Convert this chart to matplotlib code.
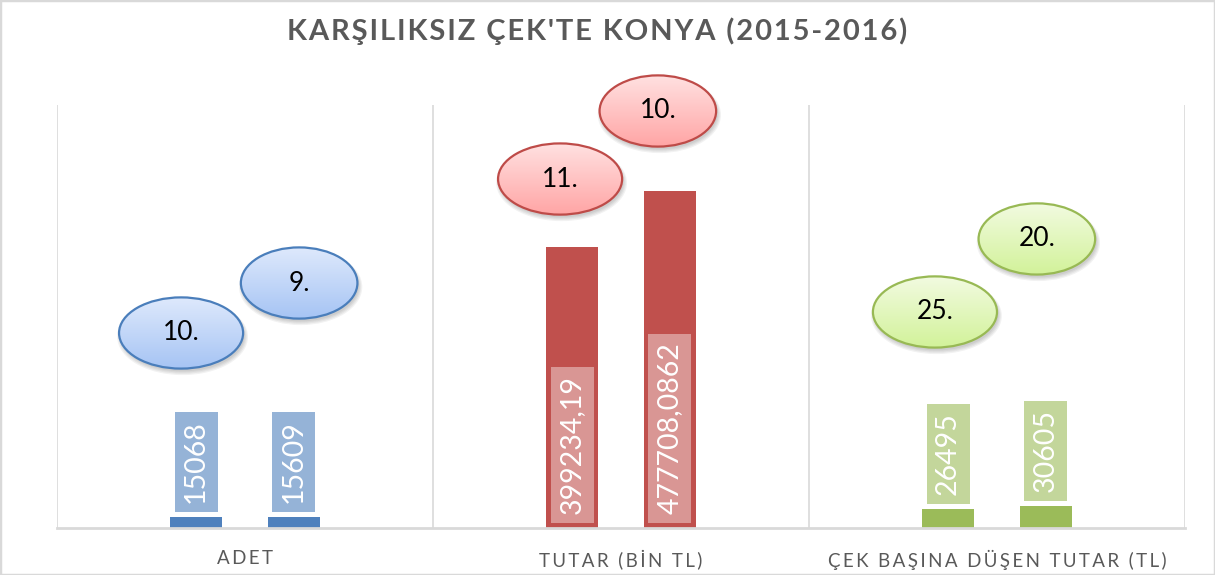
import numpy as np
import matplotlib
matplotlib.use('Agg')
import matplotlib.pyplot as plt
from matplotlib.patches import Ellipse, Rectangle
from matplotlib.colors import to_rgb

plt.rcParams['font.family'] = ['Lato', 'DejaVu Sans']

# data
categories = ['ADET', 'TUTAR (BİN TL)', 'ÇEK BAŞINA DÜŞEN TUTAR (TL)']
values_2015 = [15068, 399234.19, 26495]
values_2016 = [15609, 477708.0862, 30605]
labels_2015 = ['15068', '399234,19', '26495']
labels_2016 = ['15609', '477708,0862', '30605']
ranks_2015 = ['10.', '11.', '25.']
ranks_2016 = ['9.', '10.', '20.']
title = "KARŞILIKSIZ ÇEK'TE KONYA (2015-2016)"

# styles
bar_colors = ['#4F81BD', '#C0504D', '#9BBB59']
box_colors = ['#95B3D7', '#D99694', '#C3D69B']
ell_top = ['#DEE9FC', '#FFE1E1', '#F2FBE0']
ell_bot = ['#A6C4F4', '#FFA5A5', '#D2F29A']
ell_edge = ['#4A7EBB', '#BE4B48', '#98B954']
inside_base = [False, True, False]
# ellipse centers (x, y) for 2015 and 2016, in data units
ell_pos_2015 = [(-0.170, 276600), (0.838, 495000), (1.835, 306400)]
ell_pos_2016 = [(0.144, 347500), (1.098, 591500), (2.106, 410000)]
ell_w = [0.33, 0.31]
ell_h = 101000


def spaced(s, sep):
    # excel style letter spacing
    return sep.join(s)


YMAX = 600000
ytop = (528 - 60) / (528 - 105) * YMAX

fig = plt.figure(figsize=(12.15, 5.75), dpi=100)
ax = fig.add_axes([57/1215, 47/575, (1185-57)/1215, (528-60)/575])
ax.set_xlim(-0.5, 2.5)
ax.set_ylim(0, ytop)

x = np.arange(len(categories))
off = 0.13
bw = 0.138

for i in range(len(categories)):
    for j, (vals, labs) in enumerate([(values_2015, labels_2015), (values_2016, labels_2016)]):
        xi = x[i] - off if j == 0 else x[i] + off
        ax.bar(xi, vals[i], width=bw, color=bar_colors[i], zorder=2)
        y0 = 0 if inside_base[i] else vals[i]
        ax.annotate(labs[i], xy=(xi, y0), xytext=(0, 14), textcoords='offset pixels',
                    rotation=90, ha='center', va='bottom', color='white', fontsize=20.5,
                    bbox=dict(boxstyle='square,pad=0.3', fc=box_colors[i], ec='none'),
                    zorder=3)

# rank bubbles
def bubble(cx, cy, w, h, top, bot, edge, txt):
    for k in range(4):
        sh = Ellipse((cx + 0.004, cy - 4000 - k * 500), w + k * 0.006, h + k * 2500,
                     fc='#000000', ec='none', alpha=0.05, zorder=4)
        ax.add_patch(sh)
    e = Ellipse((cx, cy), w, h, fc='none', ec='none', zorder=5)
    ax.add_patch(e)
    t = np.array(to_rgb(top))
    b = np.array(to_rgb(bot))
    f = np.linspace(0, 1, 64)[:, None]
    img = (t * (1 - f) + b * f)[:, None, :]
    im = ax.imshow(img, extent=(cx - w/2, cx + w/2, cy - h/2, cy + h/2),
                   origin='upper', aspect='auto', zorder=5, interpolation='bilinear')
    im.set_clip_path(e)
    ax.add_patch(Ellipse((cx, cy), w, h, fc='none', ec=edge, lw=1.6, zorder=6))
    ax.text(cx, cy, txt, ha='center', va='center', fontsize=19, color='black', zorder=7)

for i in range(len(categories)):
    cx, cy = ell_pos_2015[i]
    bubble(cx, cy, ell_w[0], ell_h, ell_top[i], ell_bot[i], ell_edge[i], ranks_2015[i])
    cx, cy = ell_pos_2016[i]
    bubble(cx, cy, ell_w[1], ell_h, ell_top[i], ell_bot[i], ell_edge[i], ranks_2016[i])

ax.set_xlim(-0.5, 2.5)
ax.set_ylim(0, ytop)

# separators and axis
ax.vlines([-0.5, 0.5, 1.5, 2.5], 0, YMAX, color='#D9D9D9', lw=1.2, zorder=1)
for s in ['top', 'right', 'left']:
    ax.spines[s].set_visible(False)
ax.spines['bottom'].set_color('#D9D9D9')
ax.spines['bottom'].set_linewidth(2)
ax.set_yticks([])
ax.set_xticks(x)
ax.set_xticklabels([spaced(c, '\u2009') for c in categories], fontsize=13.5, color='#595959')
ax.tick_params(axis='x', length=0, pad=16)

fig.text(0.4918, 1 - 31/575, spaced(title, '\u200a'), ha='center', va='center', fontsize=21,
         fontweight='bold', color='#595959')

fig.patches.append(Rectangle((0, 0), 1, 1, transform=fig.transFigure, fill=False,
                             ec='#D9D9D9', lw=2.5))

fig.savefig('out.png', dpi=100)
